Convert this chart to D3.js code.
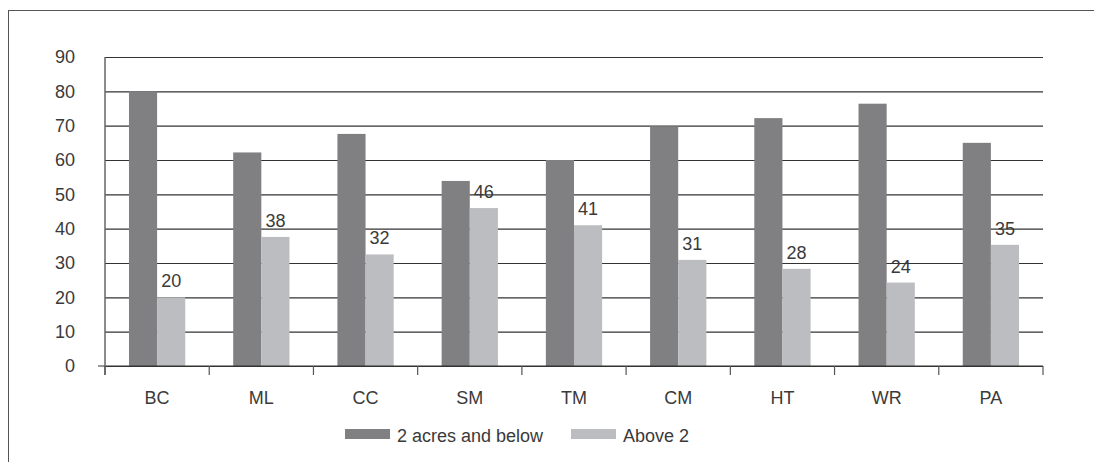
<!DOCTYPE html>
<html>
<head>
<meta charset="utf-8">
<script src="https://cdn.jsdelivr.net/npm/d3@7"></script>
<style>
  body { margin: 0; background: #fff; }
  text { font-family: "Liberation Sans", Arial, sans-serif; fill: #3a3a3a; }
</style>
</head>
<body>
<div id="chart"></div>
<script>
const categories = ["BC", "ML", "CC", "SM", "TM", "CM", "HT", "WR", "PA"];
const seriesNames = ["2 acres and below", "Above 2"];
const smallFarms = [80, 62.2, 67.6, 53.9, 60, 69.8, 72.2, 76.4, 65];
const largeFarms = [20, 37.6, 32.5, 46, 41, 30.9, 28.3, 24.3, 35.3];
const largeLabels = ["20", "38", "32", "46", "41", "31", "28", "24", "35"];
const yTicks = [0, 10, 20, 30, 40, 50, 60, 70, 80, 90];
const colors = ["#808083", "#bcbdc0"];

const W = 1094, H = 462;
const margin = { top: 57, right: 51, bottom: 96, left: 105 };
const width = W - margin.left - margin.right;
const height = H - margin.top - margin.bottom;

const root = d3.select("#chart").append("svg")
  .attr("width", W)
  .attr("height", H);

// outer frame (runs off the right and bottom edges)
root.append("rect")
  .attr("x", 8.5).attr("y", 10.5)
  .attr("width", W).attr("height", H)
  .attr("fill", "none")
  .attr("stroke", "#555")
  .attr("stroke-width", 1);

const svg = root.append("g")
  .attr("transform", "translate(" + margin.left + "," + margin.top + ")");

const x = d3.scaleBand().domain(categories).range([0, width])
  .paddingInner(0.46).paddingOuter(0.23);
const x1 = d3.scaleBand().domain([0, 1]).range([0, x.bandwidth()]);
const y = d3.scaleLinear().domain([0, 90]).range([height, 0]);

// gridlines + y labels
const yAxis = svg.append("g")
  .call(d3.axisLeft(y).tickValues(yTicks).tickSize(-width).tickPadding(30));
yAxis.select(".domain").remove();
yAxis.selectAll(".tick line").attr("stroke", "#333").attr("stroke-width", 1.2);
yAxis.selectAll(".tick text").style("font-size", "18px").attr("fill", "#3a3a3a");

// bars
const data = categories.map((c, i) => ({ cat: c, vals: [smallFarms[i], largeFarms[i]], label: largeLabels[i] }));
const groups = svg.selectAll(".grp").data(data).enter().append("g")
  .attr("transform", d => "translate(" + x(d.cat) + ",0)");
groups.selectAll("rect").data(d => d.vals).enter().append("rect")
  .attr("x", (v, j) => x1(j))
  .attr("width", x1.bandwidth())
  .attr("y", v => y(v))
  .attr("height", v => height - y(v))
  .attr("fill", (v, j) => colors[j]);

// value labels for the second series
groups.append("text")
  .attr("x", x1(1) + x1.bandwidth() / 2)
  .attr("y", d => y(d.vals[1]) - 10)
  .attr("text-anchor", "middle")
  .style("font-size", "18px")
  .text(d => d.label);

// axis lines
svg.append("line")
  .attr("x1", -7).attr("x2", width)
  .attr("y1", height).attr("y2", height)
  .attr("stroke", "#333").attr("stroke-width", 1.2);
svg.append("line")
  .attr("x1", 0).attr("x2", 0)
  .attr("y1", 0).attr("y2", height + 9)
  .attr("stroke", "#666").attr("stroke-width", 1.5);

// category boundary ticks
const bounds = d3.range(categories.length + 1).map(i => i * x.step());
svg.selectAll(".btick").data(bounds).enter().append("line")
  .attr("x1", d => d).attr("x2", d => d)
  .attr("y1", height).attr("y2", height + 9)
  .attr("stroke", "#555").attr("stroke-width", 1.2);

// category labels
svg.selectAll(".cat").data(categories).enter().append("text")
  .attr("x", d => x(d) + x.bandwidth() / 2)
  .attr("y", height + 38)
  .attr("text-anchor", "middle")
  .style("font-size", "18px")
  .text(d => d);

// legend
const legend = root.append("g").attr("transform", "translate(345,429)");
const legendX = [0, 226];
seriesNames.forEach((name, i) => {
  const g = legend.append("g").attr("transform", "translate(" + legendX[i] + ",0)");
  g.append("rect").attr("width", 45).attr("height", 10).attr("fill", colors[i]);
  g.append("text").attr("x", 52).attr("y", 13).style("font-size", "18px").text(name);
});
</script>
</body>
</html>
